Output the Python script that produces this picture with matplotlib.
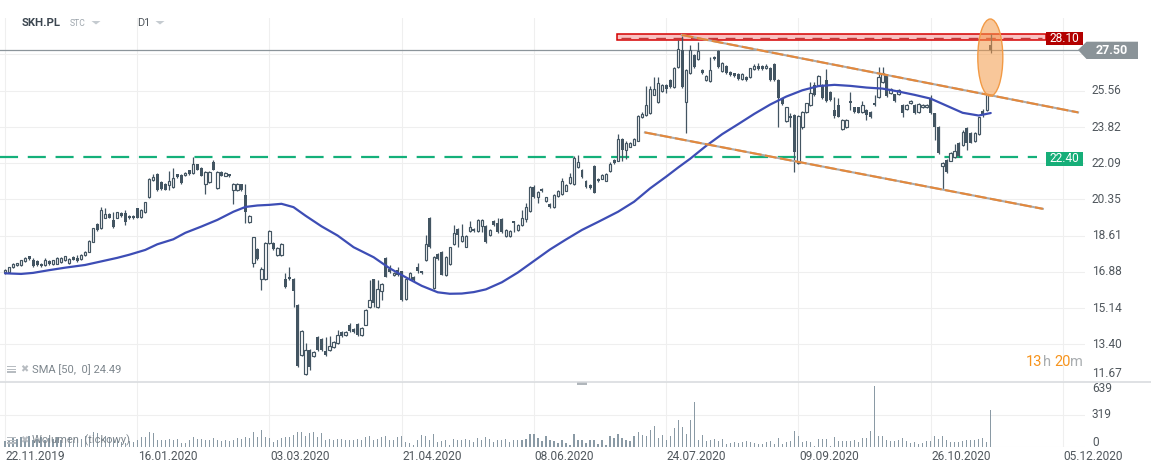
import matplotlib
matplotlib.use('Agg')
import matplotlib.pyplot as plt
from matplotlib.patches import Rectangle, Ellipse, Polygon
from matplotlib.lines import Line2D
import matplotlib.transforms as mtransforms
import numpy as np

plt.rcParams['font.family'] = ['Roboto', 'DejaVu Sans']
plt.rcParams['lines.scale_dashes'] = False

W, H = 1151, 472

# ---------------- data ----------------
open_p = [16.86,16.88,17.11,17.20,17.22,17.38,17.62,17.46,17.40,17.25,
17.21,17.40,17.26,17.27,17.34,17.43,17.29,17.59,17.53,17.50,
17.69,17.85,18.33,19.15,18.97,19.48,19.64,19.35,19.48,19.70,
19.70,19.57,19.55,19.92,19.52,19.76,20.48,21.26,21.55,21.20,
21.11,21.04,20.96,21.55,21.52,21.52,21.74,21.62,22.03,21.84,
21.07,21.20,22.13,20.88,21.65,21.49,21.55,20.79,20.79,21.07,
20.56,19.25,17.29,17.96,16.52,16.52,18.25,18.28,17.67,17.67,
16.55,16.65,16.55,15.29,12.88,11.99,13.13,12.85,13.77,13.65,
13.07,13.13,13.29,13.45,14.00,13.87,14.32,14.13,14.38,13.84,
14.35,15.18,16.52,15.18,15.98,17.54,17.03,16.71,16.97,16.90,
15.59,16.55,16.62,17.10,16.90,17.45,19.46,16.11,17.74,17.83,
16.71,17.26,18.21,18.95,18.34,18.09,18.85,18.95,18.85,19.07,
19.07,18.66,19.33,19.20,19.40,18.60,18.60,19.30,18.89,19.13,
19.40,19.78,20.96,20.48,20.84,20.26,20.15,19.99,20.52,20.61,
20.77,21.15,21.09,21.89,21.76,21.25,21.06,21.95,21.35,21.35,
21.25,21.70,22.24,22.21,23.23,22.72,22.88,22.98,23.17,24.28,
24.41,24.47,25.37,25.02,25.56,25.82,26.07,25.75,26.68,27.51,
25.02,26.39,27.29,27.09,26.55,26.07,26.01,27.19,27.48,26.49,
26.74,26.46,26.39,26.35,26.10,26.23,26.20,26.58,26.74,26.74,
26.63,26.66,26.84,26.07,25.19,24.12,24.35,24.40,22.08,23.80,
24.54,24.86,25.83,25.83,25.83,26.07,25.51,24.63,24.87,23.71,
23.80,25.08,24.76,24.76,24.55,24.63,24.55,24.99,25.27,25.99,
26.31,25.43,25.38,25.40,24.87,24.67,24.95,24.87,24.55,24.76,
24.79,25.19,24.47,23.84,21.95,22.24,22.21,22.37,23.07,22.96,
23.76,23.52,23.16,23.48,24.57,24.63,27.75]

high_p = [17.00,17.12,17.28,17.32,17.46,17.61,17.66,17.55,17.44,17.30,
17.53,17.45,17.47,17.57,17.60,17.66,17.54,17.63,17.69,17.72,
17.88,18.40,19.00,19.22,19.99,19.92,19.68,19.76,19.77,19.74,
19.86,19.61,19.59,19.96,19.87,20.25,21.37,21.58,21.60,21.24,
21.15,21.71,21.87,21.59,21.56,21.66,21.78,22.38,22.07,21.88,
21.69,21.72,22.26,21.69,21.69,21.66,21.59,21.15,21.15,21.11,
21.09,19.61,18.57,18.00,17.10,18.29,18.88,18.32,18.06,18.25,
16.81,17.13,16.59,15.33,14.07,13.45,13.17,13.09,13.81,13.69,
13.77,13.80,13.56,14.10,14.04,14.04,14.41,14.17,14.42,14.23,
15.09,16.49,16.56,16.49,16.34,17.58,17.19,16.88,17.13,16.94,
16.59,16.88,16.66,17.30,16.94,18.63,19.50,17.62,17.78,17.87,
17.65,18.09,19.14,18.99,19.17,18.64,19.33,18.99,19.40,19.42,
19.11,18.92,19.37,19.45,19.44,18.93,18.89,19.33,19.15,19.84,
20.20,20.97,21.03,20.75,20.88,20.49,20.19,20.59,20.80,21.38,
21.07,21.63,22.43,22.46,21.80,21.29,21.10,21.99,21.39,21.58,
21.61,22.14,22.28,23.48,23.27,23.17,23.08,23.30,24.39,24.54,
25.78,25.78,26.20,26.20,25.86,25.86,26.11,26.69,27.99,28.18,
26.59,27.73,27.33,27.89,26.59,26.31,27.19,27.23,27.52,26.94,
26.78,26.50,26.43,26.39,26.40,26.27,26.67,26.84,26.87,26.78,
26.84,26.70,26.88,26.11,25.23,24.80,24.47,24.44,24.39,24.60,
24.99,25.99,25.99,26.30,25.87,26.58,25.55,25.27,25.19,24.20,
24.20,25.51,24.80,24.80,25.08,24.67,24.59,25.35,26.71,26.68,
26.35,25.67,25.42,25.63,24.91,24.91,25.12,24.91,24.96,24.91,
24.90,25.35,24.51,23.88,22.15,22.28,22.63,23.00,23.11,23.68,
23.80,23.56,23.56,24.32,24.67,25.38,28.28]

low_p = [16.80,16.84,17.08,17.15,17.18,17.35,17.46,17.12,17.18,17.13,
17.18,17.20,17.22,17.24,17.30,17.40,17.25,17.43,17.37,17.47,
17.66,17.82,18.30,18.82,18.93,19.44,19.44,19.00,19.44,19.50,
19.12,19.41,19.41,19.44,19.48,19.72,20.44,21.22,20.75,20.81,
20.78,20.79,20.92,21.38,21.10,21.48,21.54,21.58,21.74,21.45,
20.63,21.16,21.74,20.84,21.45,21.45,21.42,20.11,20.75,20.75,
19.20,19.21,17.13,17.44,16.01,16.48,18.21,17.92,17.63,17.63,
16.10,16.48,15.21,12.33,12.84,11.95,12.18,12.81,13.09,13.09,
12.87,13.09,13.25,13.41,13.76,13.83,14.02,13.96,13.83,13.80,
14.31,15.14,15.21,15.14,15.53,16.61,16.83,16.67,16.67,15.49,
15.55,16.51,16.45,16.81,16.77,17.41,18.01,16.07,17.44,16.71,
16.67,17.22,18.17,18.05,18.30,18.05,18.81,18.78,18.81,18.80,
18.27,18.62,19.10,18.75,18.75,18.56,18.56,18.81,18.85,19.09,
19.29,19.74,20.44,20.20,20.70,20.22,19.96,19.95,20.48,20.57,
20.73,21.11,21.05,21.85,21.37,20.92,20.86,20.64,21.18,21.31,
21.21,21.66,22.07,22.17,22.21,22.27,22.84,22.94,23.13,24.24,
24.37,24.43,25.33,24.98,25.52,25.43,25.71,25.71,26.64,25.71,
23.52,26.35,26.64,27.03,26.38,26.03,25.97,27.03,26.64,26.45,
26.38,26.26,26.23,26.07,26.06,26.03,26.16,26.54,26.54,26.56,
26.59,26.03,26.03,23.84,24.86,24.08,23.84,21.68,22.04,23.74,
24.50,24.82,25.31,25.79,25.15,25.04,25.08,24.24,24.28,23.67,
23.76,24.63,24.51,24.47,24.51,24.16,24.24,24.82,25.23,25.95,
25.27,25.39,25.04,25.36,24.32,24.63,24.91,24.43,24.51,24.72,
24.75,24.43,23.20,22.52,20.83,21.64,22.17,22.33,22.39,22.92,
22.72,23.03,23.12,23.44,24.28,24.59,27.35]

close_p = [16.97,17.10,17.24,17.28,17.43,17.56,17.50,17.15,17.22,17.16,
17.43,17.24,17.43,17.53,17.56,17.62,17.50,17.46,17.40,17.69,
17.85,18.36,18.96,18.87,19.83,19.67,19.48,19.03,19.73,19.54,
19.28,19.45,19.45,19.48,19.83,20.21,21.33,21.42,20.79,20.85,
20.82,21.23,21.39,21.42,21.14,21.62,21.58,22.03,21.78,21.49,
21.65,21.68,21.78,21.65,21.49,21.62,21.46,21.11,21.11,20.79,
19.76,19.57,18.53,17.48,17.00,18.25,18.82,17.96,18.02,18.21,
16.14,16.52,15.98,12.37,14.03,13.13,12.30,13.05,13.13,13.13,
12.91,13.33,13.52,13.87,13.80,14.00,14.06,14.00,13.87,14.19,
15.05,15.53,15.40,16.04,16.30,16.65,16.87,16.84,16.71,15.53,
16.55,16.84,16.49,16.94,16.81,18.21,18.05,17.58,17.48,16.75,
17.61,18.05,18.73,18.66,18.60,18.60,19.01,18.82,19.36,19.36,
18.31,18.88,19.14,18.79,18.79,18.89,18.85,19.21,19.11,19.48,
19.97,20.93,20.48,20.71,20.74,20.45,20.00,20.55,20.76,21.25,
21.03,21.44,22.34,22.14,21.41,20.96,20.90,20.68,21.22,21.54,
21.57,22.05,22.11,23.23,22.72,23.04,23.04,23.26,24.35,24.44,
24.86,25.63,25.66,25.94,25.82,25.63,25.75,26.65,27.57,25.75,
26.55,27.51,26.68,27.48,26.42,26.27,26.55,27.09,26.68,26.90,
26.42,26.30,26.27,26.11,26.36,26.07,26.63,26.74,26.58,26.60,
26.74,26.07,26.07,25.19,24.90,24.76,24.23,22.64,24.35,24.54,
24.95,25.47,25.35,26.26,25.19,25.08,25.12,24.35,24.32,24.16,
24.16,24.95,24.55,24.51,24.87,24.40,24.28,24.86,26.23,26.39,
25.31,25.63,25.08,25.59,24.47,24.87,25.08,24.47,24.92,24.87,
24.86,24.47,23.84,22.56,22.11,21.68,22.59,22.68,22.43,23.60,
23.04,23.07,23.52,24.28,24.44,25.34,27.50]

volume = [56,72,98,79,98,88,111,72,79,98,
72,88,79,98,72,79,98,72,79,79,
111,98,151,138,88,111,98,88,79,46,
39,56,46,72,98,98,144,138,72,72,
72,79,72,79,39,39,66,98,79,79,
66,66,88,66,56,66,56,72,88,79,
98,88,144,98,164,98,85,52,72,85,
98,98,121,144,144,111,138,151,98,138,
72,79,66,79,79,72,66,66,79,66,
98,111,66,79,98,111,72,66,98,105,
46,39,15,66,121,105,72,131,46,56,
66,23,79,72,66,79,66,46,89,72,
98,79,46,66,72,79,46,66,72,72,
79,131,131,89,56,105,66,56,39,66,
39,23,131,66,72,39,66,66,33,66,
23,111,89,131,89,72,56,105,144,121,
105,170,210,89,121,72,105,187,269,197,
131,269,446,66,121,56,66,79,56,79,
33,39,46,39,46,56,46,39,33,33,
46,56,33,89,33,46,56,161,105,46,
56,46,13,79,79,79,13,98,56,56,
56,56,66,46,89,89,154,603,111,111,
72,56,56,66,89,56,39,46,33,39,
56,56,111,79,105,66,46,46,46,56,
66,66,66,79,89,46,361]

# SMA(50) (candle index, value)
sma_idx = [0, 4, 7, 11, 15, 20, 24, 28, 31, 35, 38, 42, 45, 49, 53, 57, 60, 63, 66, 69,
           72, 75, 79, 83, 87, 92, 96, 100, 104, 108, 111, 114, 117, 120, 124, 128, 132,
           136, 140, 144, 148, 153, 157, 161, 165, 168, 171, 175, 179, 183, 187, 191,
           195, 199, 203, 207, 211, 215, 219, 223, 227, 231, 235, 239, 243, 246]
sma_val = [16.81, 16.78, 16.83, 16.96, 17.08, 17.21, 17.38, 17.55, 17.70, 17.93, 18.20,
           18.44, 18.75, 19.05, 19.37, 19.76, 19.99, 20.06, 20.09, 20.14, 19.98, 19.57,
           19.06, 18.62, 18.06, 17.58, 17.05, 16.62, 16.21, 15.90, 15.83, 15.84, 15.91,
           16.04, 16.38, 16.85, 17.40, 17.95, 18.43, 18.89, 19.27, 19.76, 20.24, 20.88,
           21.44, 21.88, 22.30, 22.92, 23.48, 23.96, 24.45, 24.90, 25.28, 25.58, 25.78,
           25.84, 25.79, 25.71, 25.66, 25.52, 25.36, 25.18, 24.84, 24.50, 24.37, 24.49]

date_labels = ['22.11.2019', '16.01.2020', '03.03.2020', '21.04.2020', '08.06.2020',
               '24.07.2020', '09.09.2020', '26.10.2020', '05.12.2020']
date_idx = [0, 33, 66, 99, 132, 165, 198, 231, 264]

price_ticks = [25.56, 23.82, 22.09, 20.35, 18.61, 16.88, 15.14, 13.40, 11.67]
hidden_grid = [27.30]
vol_ticks = [0, 319, 639]

last_price = 27.50
resistance = 28.10
zone_lo, zone_hi = 27.99, 28.30
zone_x = (152.7, 259.8)
support = 22.40
support_x = (-1.25, 257.6)
chan_upper_x, chan_upper_y = [168.9, 267.8], [28.23, 24.52]
chan_lower_x, chan_lower_y = [159.7, 259.0], [23.56, 19.90]
oval_center, oval_w, oval_h = (245.9, 27.15), 6.24, 3.69
sma_last = 24.49

# ---------------- layout ----------------
def fx(x):
    return x / W

def fy(y):
    return 1 - y / H

fig = plt.figure(figsize=(W / 100, H / 100), dpi=100)
fig.patch.set_facecolor('white')

x_lo, x_hi = -1.248, 269.53
ax = fig.add_axes([0, fy(381), fx(1085), fy(18) - fy(381)])
axv = fig.add_axes([0, fy(447), fx(1085), fy(382) - fy(447)])
for a in (ax, axv):
    a.set_xlim(x_lo, x_hi)
    a.set_axis_off()
ax.set_ylim(11.650, 29.043)
axv.set_ylim(0, 639)

grid_c = '#efefef'
txt_c = '#50575d'
dark = '#435562'

# grid
for d in date_idx:
    ax.axvline(d, color=grid_c, lw=0.8, zorder=0)
    axv.axvline(d, color=grid_c, lw=0.8, zorder=0)
for p in price_ticks + hidden_grid:
    ax.axhline(p, color=grid_c, lw=0.8, zorder=0)
axv.axhline(319, color=grid_c, lw=0.8, zorder=0)
axv.axhline(0.5, color=grid_c, lw=0.8, zorder=0)

# support line (green dashed)
ax.add_line(Line2D(support_x, [support, support], color='#14b07a', lw=1.6,
                   dashes=(13, 7), zorder=2.5))

# resistance zone
ax.add_patch(Rectangle((zone_x[0], zone_lo), zone_x[1] - zone_x[0], zone_hi - zone_lo,
                       facecolor='#f9c2c2', edgecolor='#d40000', lw=1.1, zorder=2))
ax.add_line(Line2D([zone_x[0] + 1, zone_x[1] - 1], [resistance, resistance],
                   color='#c23a3a', lw=1.0, dashes=(7, 5.5), zorder=2.2))

# last price line
ax.add_line(Line2D([x_lo, 267.8], [last_price, last_price], color='#8c959b', lw=0.9, zorder=2))

# candles
idx = np.arange(len(close_p))
o = np.array(open_p); hh = np.array(high_p); ll = np.array(low_p); c = np.array(close_p)
up = c > o
ax.vlines(idx, ll, hh, color=dark, lw=0.9, zorder=3)
lo_b = np.minimum(o, c)
hgt = np.maximum(np.abs(c - o), 0.05)
ax.bar(idx[up], hgt[up], bottom=lo_b[up], width=0.58, facecolor='white',
       edgecolor=dark, linewidth=0.85, zorder=4)
ax.bar(idx[~up], hgt[~up], bottom=lo_b[~up], width=0.74, color=dark, linewidth=0, zorder=4)

# SMA
ax.plot(sma_idx, sma_val, color='#3d4db5', lw=1.6, zorder=5, solid_capstyle='round')

# channel lines
for xs, ys in ((chan_upper_x, chan_upper_y), (chan_lower_x, chan_lower_y)):
    ax.add_line(Line2D(xs, ys, color='#ababab', lw=1.5, zorder=6))
    ax.add_line(Line2D(xs, ys, color='#e3883c', lw=1.5, dashes=(8.5, 2.5), zorder=6.1))

# oval
ax.add_patch(Ellipse(oval_center, oval_w, oval_h, facecolor='#f49a48', alpha=0.55,
                     edgecolor='none', zorder=7))
ax.add_patch(Ellipse(oval_center, oval_w, oval_h, facecolor='none',
                     edgecolor='#f29a45', lw=1.0, zorder=7.1))

# volume
axv.bar(idx, volume, width=0.3, color='#8a9aa5', linewidth=0, zorder=3)

# separator between panels
fig.add_artist(Line2D([0, 1], [fy(382), fy(382)], color='#d6d9dc', lw=1.1,
                      transform=fig.transFigure))
fig.add_artist(Rectangle((fx(577), fy(384.5)), fx(10), 2.2 / H, facecolor='#b0b6bb',
                         edgecolor='none', transform=fig.transFigure))

# price axis labels
tr_r = mtransforms.blended_transform_factory(fig.transFigure, ax.transData)
for p in price_ticks:
    va = 'bottom' if p == price_ticks[-1] else 'center'
    ax.text(fx(1092), p if va == 'center' else p + 0.02, f'{p:.2f}', transform=tr_r,
            ha='left', va=va, fontsize=8.6, color=txt_c, clip_on=False)

# volume labels
fig.text(fx(1092), fy(388.5), '639', ha='left', va='center', fontsize=8.6, color=txt_c)
fig.text(fx(1092), fy(414.8), '319', ha='left', va='center', fontsize=8.6, color=txt_c)
fig.text(fx(1092), fy(442.7), '0', ha='left', va='center', fontsize=8.6, color=txt_c)

# date labels
tr_d = mtransforms.blended_transform_factory(ax.transData, fig.transFigure)
for d, lab in zip(date_idx, date_labels):
    ax.text(d + 0.2, fy(456.5), lab, transform=tr_d, ha='left', va='center',
            fontsize=8.6, color=txt_c, clip_on=False)

# level tags
def tag(y0, y1, color, label):
    fig.add_artist(Rectangle((fx(1046), fy(y1)), fx(1083) - fx(1046), fy(y0) - fy(y1),
                             facecolor=color, edgecolor='none', transform=fig.transFigure))
    fig.text(fx(1064.5), fy((y0 + y1) / 2 + 0.3), label, ha='center', va='center',
             fontsize=8.6, color='white')

tag(31.5, 45, '#b30000', f'{resistance:.2f}')
tag(151.5, 165.5, '#16ae78', f'{support:.2f}')

pts = [(1078, 50), (1086.5, 41.7), (1138, 41.7), (1138, 59), (1086.5, 59)]
fig.add_artist(Polygon([(fx(a), fy(b)) for a, b in pts], closed=True, facecolor='#8a9398',
                       edgecolor='none', transform=fig.transFigure))
fig.text(fx(1112), fy(50.5), f'{last_price:.2f}', ha='center', va='center', fontsize=9,
         color='white', fontweight='bold')

# header
fig.text(fx(21.5), fy(23.5), 'SKH.PL', ha='left', va='center', fontsize=8.2,
         color='#3c4650', fontweight='bold')
fig.text(fx(70), fy(23.5), 'STC', ha='left', va='center', fontsize=6.2, color='#9ea6ad')
fig.text(fx(137.5), fy(23.5), 'D1', ha='left', va='center', fontsize=7.8, color='#50575d')
for xc in (96, 160):
    tri = [(xc - 4.5, 21), (xc + 4.5, 21), (xc, 24.5)]
    fig.add_artist(Polygon([(fx(a), fy(b)) for a, b in tri], closed=True,
                           facecolor='#c5cbd0', edgecolor='none', transform=fig.transFigure))

# indicator labels with icons
def icons(yc):
    for k in range(3):
        fig.add_artist(Rectangle((fx(7), fy(yc - 3.2 + k * 2.6 + 1.6)), fx(9), 1.5 / H,
                                 facecolor='#b7bcc1', edgecolor='none',
                                 transform=fig.transFigure))
    fig.text(fx(20.5), fy(yc), '\u2716', ha='left', va='center', fontsize=7,
             color='#b7bcc1', family=['DejaVu Sans'])

icons(369)
fig.text(fx(32), fy(369.5), f'SMA [50,  0] {sma_last:.2f}', ha='left', va='center',
         fontsize=8, color='#7d868d')
icons(440)
fig.text(fx(32), fy(440), 'Wolumen  (tickowy)', ha='left', va='center', fontsize=8,
         color='#7d868d')

# countdown text
r = fig.canvas.get_renderer()
xpos = 1026
for s, col, gap in (('13', '#f7941d', 0), ('h', '#a9adb0', 3.5), ('20', '#f7941d', 0),
                    ('m', '#a9adb0', 0)):
    t = fig.text(fx(xpos), fy(362.5), s, ha='left', va='center', fontsize=10.5, color=col)
    bb = t.get_window_extent(renderer=r)
    xpos += bb.width + gap

fig.savefig('out.png', dpi=100, facecolor='white')
